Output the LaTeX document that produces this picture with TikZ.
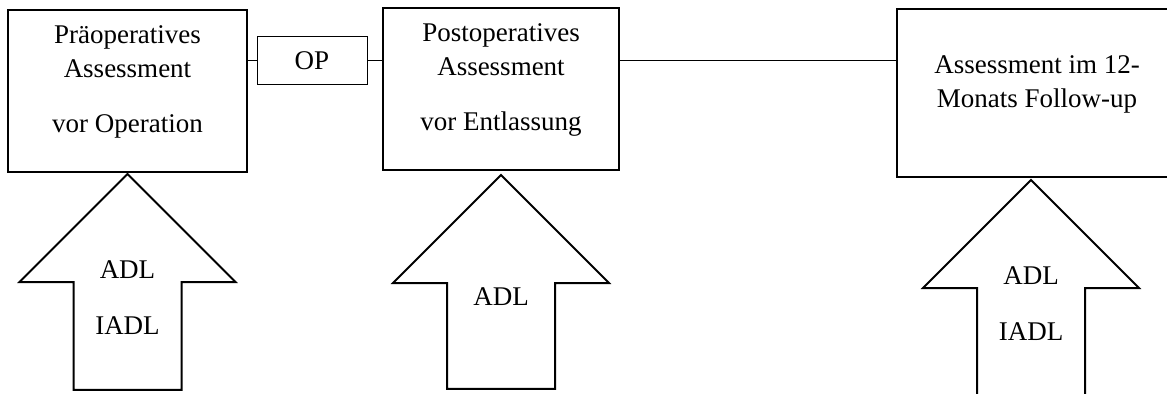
\documentclass[tikz,border=0pt]{standalone}
\usepackage{fontspec}
\setmainfont{Liberation Serif}
\usetikzlibrary{shapes.arrows,positioning}
\tikzset{
    stage/.style={draw, line width=1pt, rectangle, inner sep=0pt},
    opbox/.style={draw, line width=0.5pt, rectangle, inner sep=0pt, minimum width=55pt, minimum height=24pt},
    link/.style={line width=0.5pt},
    uparrow/.style={draw, line width=1pt, single arrow, shape border rotate=90,
        single arrow tip angle=90, single arrow head extend=27pt,
        text width=53pt, inner sep=0pt, outer sep=0pt},
    boxtext/.style={align=center, inner sep=0pt}
}

\begin{document}
\begin{tikzpicture}[x=0.5pt, y=-0.5pt, font=\fontsize{13.5pt}{17pt}\selectfont]
    \clip (0,0) rectangle (1167,394);
    % assessment boxes
    \node[stage, minimum width=119.5pt, minimum height=81pt] (pre) at (127.5,91) {};
    \node[stage, minimum width=118pt, minimum height=81pt] (post) at (501,89) {};
    \node[stage, minimum width=140pt, minimum height=84pt] (fu) at (1037,93) {};
    \node[opbox] (op) at (312,61) {OP};

    \node[boxtext, below=8pt of pre.north] (pretext) {Präoperatives\\Assessment\\[10.5pt]vor Operation};
    \node[boxtext, below=8pt of post.north] (posttext) {Postoperatives\\Assessment\\[10.5pt]vor Entlassung};
    \node[boxtext, below=23.5pt of fu.north] (futext) {Assessment im 12-\\Monats Follow-up};

    % timeline
    \draw[link] (op.west) -- (op.west -| pre.east);
    \draw[link] (op.east) -- (op.east -| post.west);
    \draw[link] (post.east |- op) -- (fu.west |- op);

    % instruments
    \node[uparrow, minimum height=108pt, anchor=tip, yshift=-0.5pt] (arrpre) at (pre.south) {};
    \node[uparrow, minimum height=107pt, anchor=tip, yshift=-2pt] (arrpost) at (post.south) {};
    \node[uparrow, minimum height=120pt, anchor=tip, xshift=-3pt, yshift=-1pt] (arrfu) at (fu.south) {};

    \node[boxtext, below=43pt of arrpre.tip] (adlpre) {ADL\\[11pt]IADL};
    \node[boxtext, below=56pt of arrpost.tip] (adlpost) {ADL};
    \node[boxtext, below=43pt of arrfu.tip] (adlfu) {ADL\\[11pt]IADL};
\end{tikzpicture}
\end{document}
